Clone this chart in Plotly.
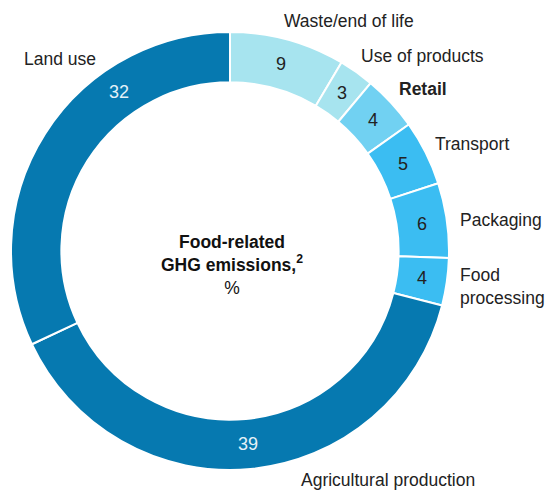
import numpy as np
import plotly.graph_objects as go

# Food-related GHG emissions, % (shares, labels as printed)
categories = ["Waste/end of life", "Use of products", "Retail", "Transport",
              "Packaging", "Food processing", "Agricultural production", "Land use"]
shares = [8.5, 2.6, 4.1, 4.8, 5.5, 3.5, 39.0, 32.0]
printed = ["9", "3", "4", "5", "6", "4", "39", "32"]

colors = ["#a7e4ef", "#a7e4ef", "#71d1f2", "#3bbdf2",
          "#3bbdf2", "#3bbdf2", "#0679b0", "#0679b0"]
number_colors = ["#222222"] * 6 + ["#e4f1f8"] * 2

# the page body has an 8px margin, so the figure is drawn 8px in from the window corner
PAD = 8
W, H = 554 - PAD, 490 - PAD
cx, cy, r_out = 230, 251, 219      # pie centre / outer radius, window px
hole = 0.77
font = "Liberation Sans, Arial, sans-serif"


def px(x, y):
    return (x - PAD) / W, 1 - (y - PAD) / H


fig = go.Figure()
x0, y0 = px(cx - r_out, cy + r_out)
x1, y1 = px(cx + r_out, cy - r_out)
fig.add_trace(go.Pie(
    labels=categories, values=shares, sort=False, direction="clockwise",
    hole=hole, marker=dict(colors=colors, line=dict(color="white", width=2)),
    textinfo="none", hoverinfo="label+value", showlegend=False,
    domain=dict(x=[x0, x1], y=[y0, y1]),
))

annotations = []

# numbers inside the ring, at the mid angle of each slice
r_mid = r_out * (1 + hole) / 2
angle_shift = {"Land use": 22.5}   # printed higher up the slice in the original
total = sum(shares)
cum = 0.0
for cat, v, txt, col in zip(categories, shares, printed, number_colors):
    a = (cum + v / 2) / total * 360 + angle_shift.get(cat, 0)
    cum += v
    x, y = px(cx + r_mid * np.sin(np.radians(a)), cy - r_mid * np.cos(np.radians(a)))
    annotations.append(dict(x=x, y=y, text=txt, showarrow=False,
                            xanchor="center", yanchor="middle",
                            font=dict(family=font, size=18, color=col)))

# category labels around the ring
label_pos = {
    "Waste/end of life": (282, 21),
    "Use of products": (359, 56),
    "Retail": (397, 89),
    "Transport": (433, 144),
    "Packaging": (458, 220),
    "Food processing": (458, 286),
    "Agricultural production": (299, 480),
    "Land use": (22, 59),
}
for cat in categories:
    x, y = px(*label_pos[cat])
    text = "Food<br>processing" if cat == "Food processing" else cat
    if cat == "Retail":
        text = "<b>Retail</b>"
    annotations.append(dict(x=x, y=y, text=text, showarrow=False,
                            xanchor="left", yanchor="middle", align="left",
                            font=dict(family=font, size=17.5, color="#222222")))

# centre title
x, y = px(cx + 2, 265)
annotations.append(dict(x=x, y=y, showarrow=False, xanchor="center", yanchor="middle",
                        text="<b>Food-related</b><br><b>GHG emissions,<sup>2</sup></b><br>%",
                        font=dict(family=font, size=17.5, color="#111111")))

fig.update_layout(
    width=W, height=H,
    margin=dict(l=0, r=0, t=0, b=0),
    paper_bgcolor="white", plot_bgcolor="white",
    annotations=annotations,
)

fig.write_html("out.html")
